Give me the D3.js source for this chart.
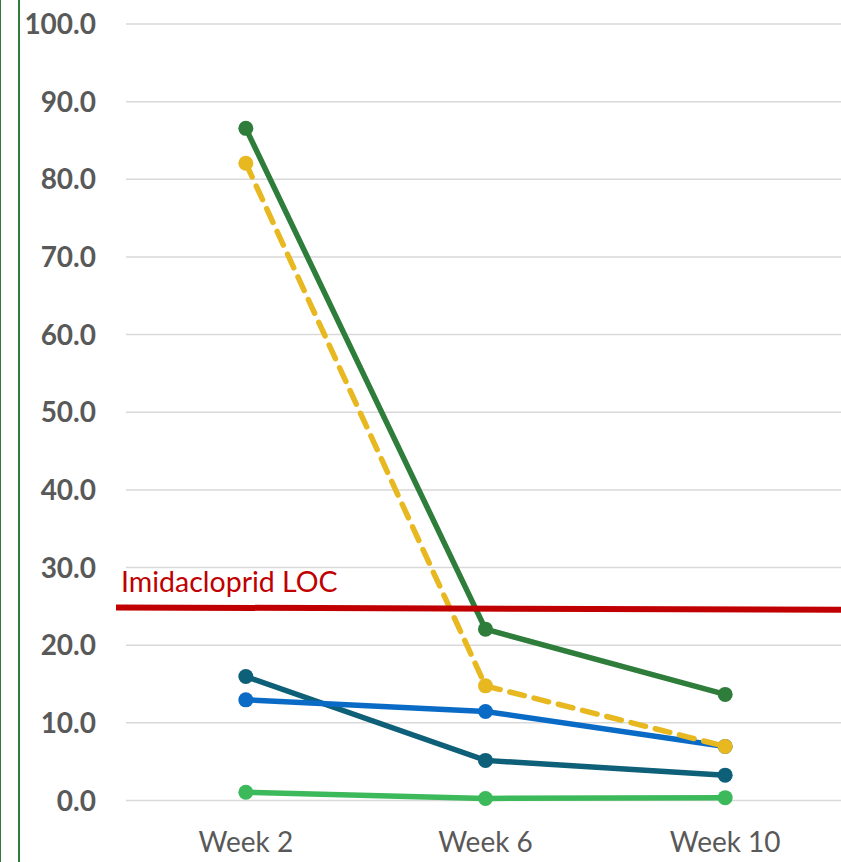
<!DOCTYPE html>
<html>
<head>
<meta charset="utf-8">
<script src="https://cdn.jsdelivr.net/npm/d3@7/dist/d3.min.js"></script>
<style>
  html, body { margin: 0; padding: 0; background: #fff; }
  svg { display: block; }
</style>
</head>
<body>
<script>
// Weekly residue measurements per series
const weeks = ["Week 2", "Week 6", "Week 10"];
const darkGreen = [86.5, 22.0, 13.6];
const gold = [82.0, 14.7, 6.9];
const teal = [15.9, 5.1, 3.2];
const blue = [12.9, 11.4, 6.9];
const lightGreen = [1.0, 0.2, 0.3];
const yTicks = [0, 10, 20, 30, 40, 50, 60, 70, 80, 90, 100];
const locLabel = "Imidacloprid LOC";
const locValues = [24.8, 24.5];

const W = 841, H = 862;
const svg = d3.select("body").append("svg").attr("width", W).attr("height", H);

const x = d3.scaleBand().domain(weeks).range([126, 845]);
const y = d3.scaleLinear().domain([0, 100]).range([800, 23.5]);

// frame lines on the left
svg.append("line").attr("x1", 0.5).attr("x2", 0.5).attr("y1", 0).attr("y2", H)
  .attr("stroke", "#2e7d3a").attr("stroke-width", 1);
svg.append("line").attr("x1", 19).attr("x2", 19).attr("y1", 0).attr("y2", H)
  .attr("stroke", "#2e7d3a").attr("stroke-width", 2);

// gridlines
const yAxis = d3.axisLeft(y).tickValues(yTicks).tickFormat(d3.format(".1f"))
  .tickSize(-(W - 126)).tickPadding(30);
const gy = svg.append("g").attr("transform", "translate(126,0)").call(yAxis);
gy.select(".domain").remove();
gy.selectAll(".tick line").attr("stroke", "#d9d9d9").attr("stroke-width", 1.5);
gy.selectAll(".tick text")
  .attr("fill", "#595959")
  .style("font-family", "Lato, 'Open Sans', sans-serif")
  .style("font-weight", "bold")
  .style("font-size", "28px")
  .attr("dy", "0.36em");

// x axis labels
const xAxis = d3.axisBottom(x).tickSize(0).tickPadding(0);
const gx = svg.append("g").attr("transform", "translate(0,800)").call(xAxis);
gx.select(".domain").remove();
gx.selectAll(".tick text")
  .attr("fill", "#595959")
  .attr("y", 52).attr("dy", 0)
  .style("font-family", "Lato, 'Open Sans', sans-serif")
  .style("font-size", "28px");

const cx = d => x(d) + x.bandwidth() / 2;
const line = d3.line().x((d, i) => cx(weeks[i])).y(d => y(d));

const series = [
  { values: lightGreen, color: "#3cb95a", dash: null },
  { values: teal, color: "#0e5f78", dash: null },
  { values: blue, color: "#0a6bc6", dash: null },
  { values: gold, color: "#e8b820", dash: "15,10" },
  { values: darkGreen, color: "#2e7d3a", dash: null }
];

series.forEach(s => {
  svg.append("path").datum(s.values)
    .attr("d", line)
    .attr("fill", "none")
    .attr("stroke", s.color)
    .attr("stroke-width", 5.5)
    .attr("stroke-linecap", s.dash ? "round" : "butt")
    .attr("stroke-dasharray", s.dash);
  svg.selectAll(null).data(s.values).enter().append("circle")
    .attr("cx", (d, i) => cx(weeks[i]))
    .attr("cy", d => y(d))
    .attr("r", 7.5)
    .attr("fill", s.color);
});

// level of concern line and label
svg.append("line")
  .attr("x1", 116).attr("x2", W)
  .attr("y1", y(locValues[0])).attr("y2", y(locValues[1]))
  .attr("stroke", "#c00000").attr("stroke-width", 6);
svg.append("text")
  .attr("x", 121).attr("y", 592)
  .attr("fill", "#c00000")
  .style("font-family", "Lato, 'Open Sans', sans-serif")
  .style("font-size", "28.5px")
  .text(locLabel);
</script>
</body>
</html>
